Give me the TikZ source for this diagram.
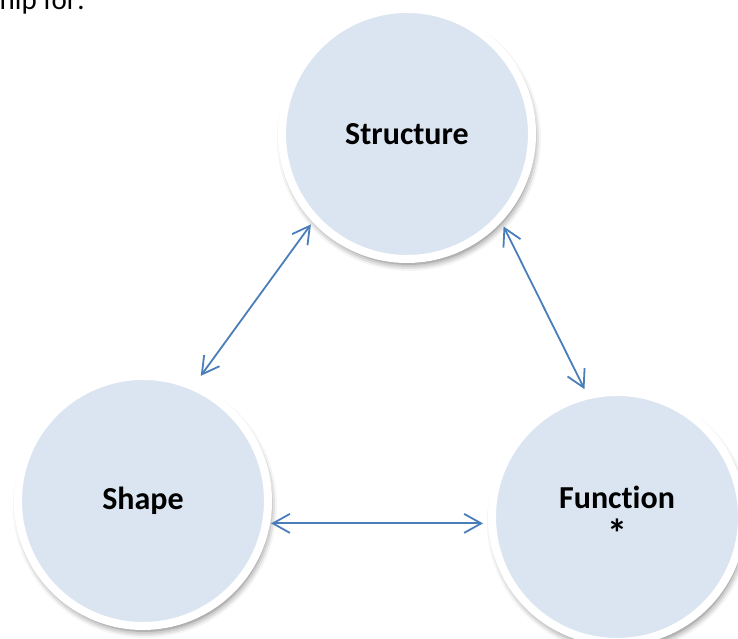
\documentclass[tikz,border=0pt]{standalone}
\usepackage{fontspec}
\setmainfont[Ligatures=NoCommon]{Carlito}
\usetikzlibrary{arrows.meta,shadows.blur}
\definecolor{discfill}{HTML}{DBE5F1}
\definecolor{linkblue}{HTML}{4A7EBB}
\begin{document}
\begin{tikzpicture}[x=1pt,y=1pt,
  disc/.style={circle, minimum size=250pt, inner sep=0pt,
    fill=discfill, draw=white, line width=8pt,
    blur shadow={shadow xshift=2pt, shadow yshift=-5pt,
      shadow blur radius=7pt, shadow opacity=60},
    font=\bfseries\fontsize{32}{37}\selectfont, align=center},
  barb/.tip={Straight Barb[length=17pt,width=19pt,line width=1.8pt]},
  link/.style={draw=linkblue, line width=1.8pt, barb-barb}
]
\useasboundingbox (0,0) rectangle (738,639);
\clip (0,0) rectangle (738,639);

% running text above the diagram
\node[anchor=base east, inner sep=0pt, font=\fontsize{29}{34}\selectfont] (lead) at (85,629) {hip for:};

% the three discs
\node[disc] (struct) at (407,505) {Structure};
\node[disc] (shape) at (143,138) {Shape};
\node[disc] (func) at (617,122) {Function\\[2pt]{\fontsize{40}{37}\selectfont *}};

% double-headed links
\draw[link, shorten <=3pt, shorten >=9pt] (struct.223.5) -- (shape.66.6);
\draw[link, shorten <=5pt, shorten >=3pt] (struct.317) -- (func.104.5);
\draw[link, shorten <=1pt, shorten >=5pt] (shape.350.7) -- (shape.350.7 -| func.west);
\end{tikzpicture}
\end{document}
